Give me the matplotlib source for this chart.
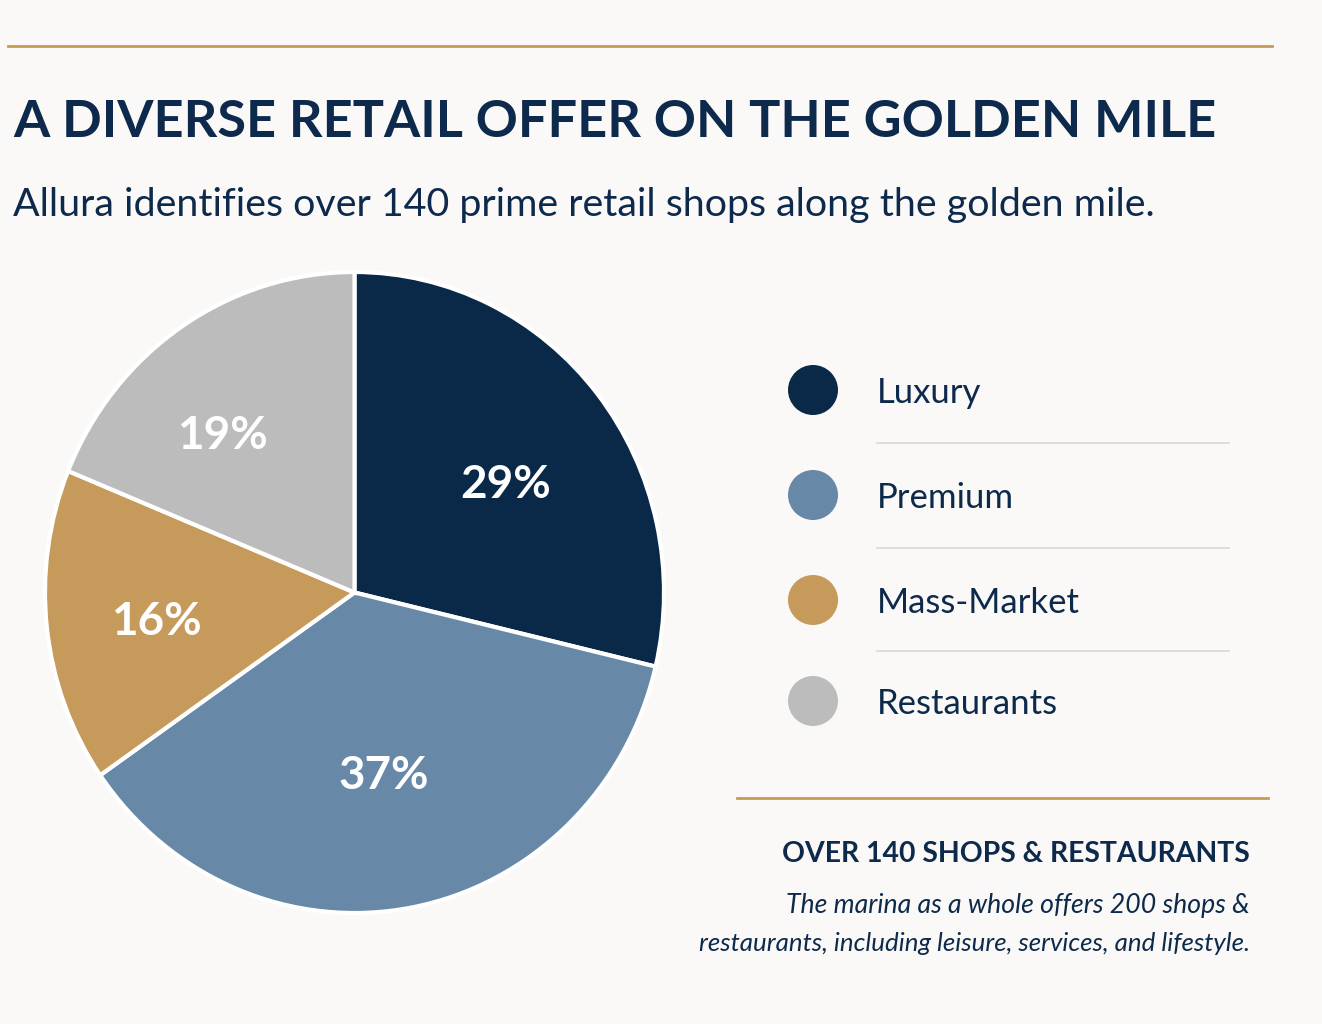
import matplotlib
matplotlib.use("Agg")
import numpy as np
import matplotlib.pyplot as plt
from matplotlib.patches import Ellipse
from matplotlib.lines import Line2D

categories = ["Luxury", "Premium", "Mass-Market", "Restaurants"]
shares = [29, 37, 16, 19]
colors = ["#0a2949", "#6788a6", "#c69a5b", "#bcbcbc"]

title = "A DIVERSE RETAIL OFFER ON THE GOLDEN MILE"
subtitle = "Allura identifies over 140 prime retail shops along the golden mile."
note_head = "OVER 140 SHOPS & RESTAURANTS"
note_lines = ["The marina as a whole offers 200 shops &",
              "restaurants, including leisure, services, and lifestyle."]

NAVY = "#0d2a4c"
GOLD = "#c99a55"
BG = "#faf9f7"

W, H = 1322, 1024
fig = plt.figure(figsize=(W / 100, H / 100), dpi=100, facecolor=BG)
plt.rcParams['font.family'] = ['Lato', 'DejaVu Sans']

def fx(px):
    return px / W

def fy(py):
    return 1 - py / H

# top gold rule
fig.add_artist(Line2D([fx(8), fx(1272)], [fy(46), fy(46)], color=GOLD, lw=2))

fig.text(fx(13), fy(137), title, fontsize=37.6, fontweight='bold', color=NAVY,
         ha='left', va='baseline')
fig.text(fx(13), fy(216), subtitle, fontsize=28.4, color=NAVY,
         ha='left', va='baseline')

# pie
left, right, top, bottom = 45, 664, 272, 913
ax = fig.add_axes([fx(left), fy(bottom), (right - left) / W, (bottom - top) / H])
wedges, _, autotexts = ax.pie(
    shares, colors=colors, startangle=90, counterclock=False,
    autopct=lambda p: f"{p:.0f}%", pctdistance=0.6,
    wedgeprops=dict(edgecolor="white", linewidth=3),
    textprops=dict(color="white", fontsize=33, fontweight='bold'))
label_r = [0.60, 0.565, 0.645, 0.66]
label_shift = [-2.7, -1.2, 0.5, 6.5]
for w, t, r, s in zip(wedges, autotexts, label_r, label_shift):
    ang = np.deg2rad((w.theta1 + w.theta2) / 2 + s)
    t.set_position((r * np.cos(ang), r * np.sin(ang) - 0.015))
ax.set_aspect('auto')
ax.set_xlim(-1.0, 1.0)
ax.set_ylim(-1.0, 1.0)
ax.axis('off')

# legend
lax = fig.add_axes([0, 0, 1, 1], facecolor='none')
lax.set_xlim(0, W)
lax.set_ylim(H, 0)
lax.axis('off')
ys = [390, 495, 600, 701]
for i, (cat, col) in enumerate(zip(categories, colors)):
    lax.add_patch(Ellipse((813, ys[i]), 50, 50, color=col, lw=0))
    lax.text(877, ys[i] + 13, cat, fontsize=25, color=NAVY, ha='left', va='baseline')
    if i < len(categories) - 1:
        sy = (ys[i] + ys[i + 1]) / 2 + 0.5
        lax.plot([877, 1229], [sy, sy], color="#dcdcdc", lw=1.3)

fig.add_artist(Line2D([fx(737), fx(1268)], [fy(798), fy(798)], color=GOLD, lw=2))
fig.text(fx(1250), fy(862), note_head, fontsize=20.4, fontweight='bold', color=NAVY,
         ha='right', va='baseline')
fig.text(fx(1250), fy(913), note_lines[0], fontsize=19.2, style='italic', color=NAVY,
         ha='right', va='baseline')
fig.text(fx(1250), fy(951), note_lines[1], fontsize=18.6, style='italic', color=NAVY,
         ha='right', va='baseline')

fig.savefig("out.png", dpi=100, facecolor=BG)
